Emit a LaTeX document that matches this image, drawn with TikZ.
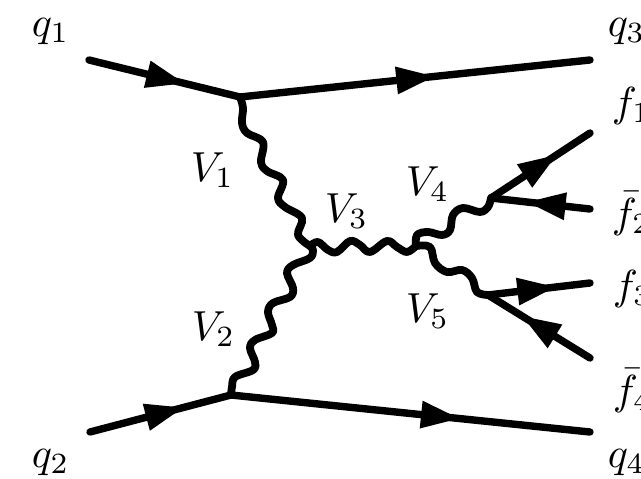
\documentclass[tikz,border=0pt]{standalone}
\usetikzlibrary{decorations.markings,arrows.meta}
\tikzset{
 x=1pt,y=-1pt,
 fermion/.style={line width=7.4pt,line cap=round,postaction={decorate},
  decoration={markings,mark=at position #1 with {\arrow[line width=0pt]{Triangle[length=38pt,width=28pt]}}}},
 boson/.style={line width=7.8pt,line cap=round,line join=round},
 lbl/.style={scale=4.2,inner sep=0pt,anchor=base west}
}
\begin{document}
\begin{tikzpicture}
\useasboundingbox (0,0) rectangle (641,479);
\clip (0,0) rectangle (641,479);
\fill[white] (0,0) rectangle (641,479);
\coordinate (q1) at (89,60);
\coordinate (q2) at (90,432);
\coordinate (q3) at (590,60);
\coordinate (q4) at (590,432);
\coordinate (A) at (240,97);
\coordinate (B) at (231,395);
\coordinate (C) at (310,246);
\coordinate (D) at (416,246);
\coordinate (E) at (491,198);
\coordinate (F) at (488,295);
\coordinate (f1) at (590,133);
\coordinate (f2) at (590,209);
\coordinate (f3) at (590,283);
\coordinate (f4) at (590,358);
\draw[fermion=0.63] (q1) -- (A);
\draw[fermion=0.555] (A) -- (q3);
\draw[fermion=0.66] (q2) -- (B);
\draw[fermion=0.635] (B) -- (q4);
\draw[fermion=0.66] (E) -- (f1);
\draw[fermion=0.63] (f2) -- (E);
\draw[fermion=0.66] (F) -- (f3);
\draw[fermion=0.66] (f4) -- (F);
\draw[boson] plot[smooth,tension=0.6] coordinates {(A) (243,108) (242,123) (247,133) (263,142) (261,162) (267,171) (283,180) (278,198) (285,207) (302,218) (298,235) (C)};
\draw[boson] plot[smooth,tension=0.6] coordinates {(B) (232,387) (235,377) (253,370) (255,362) (250,348) (255,340) (272,333) (272,325) (268,312) (273,303) (290,297) (293,288) (287,273) (293,265) (310,258) (313,250) (C)};
\draw[boson] plot[smooth,tension=0.6] coordinates {(C) (318,242) (328,250) (337,252) (350,241) (360,245) (370,252) (387,241) (397,247) (407,252) (D)};
\draw[boson] plot[smooth,tension=0.6] coordinates {(D) (417,235) (428,232) (442,235) (450,230) (453,215) (463,208) (480,212) (488,207) (E)};
\draw[boson] plot[smooth,tension=0.6] coordinates {(D) (430,247) (435,263) (447,272) (462,270) (472,278) (477,292) (F)};
\node[lbl] (tq1) at (31,36) {$q_1$};
\node[lbl] (tq2) at (31,467) {$q_2$};
\node[lbl] (tq3) at (607,36) {$q_3$};
\node[lbl] (tq4) at (607,467) {$q_4$};
\node[lbl] (tf1) at (611,116) {$f_1$};
\node[lbl] (tf2) at (611,227) {$\bar f_2$};
\node[lbl] (tf3) at (612,299) {$f_3$};
\node[lbl] (tf4) at (612,404) {$\bar f_4$};
\node[lbl] (tv1) at (190,181) {$V_1$};
\node[lbl] (tv2) at (191,340) {$V_2$};
\node[lbl] (tv3) at (324,222) {$V_3$};
\node[lbl] (tv4) at (405,195) {$V_4$};
\node[lbl] (tv5) at (405,322) {$V_5$};
\end{tikzpicture}
\end{document}
